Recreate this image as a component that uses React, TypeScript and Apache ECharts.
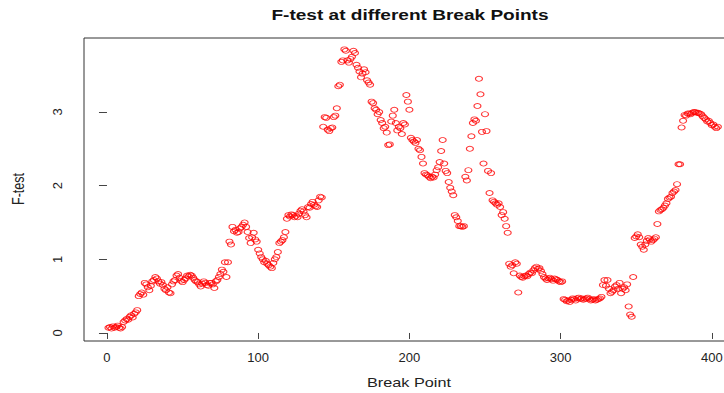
import React, { useEffect, useRef } from "react";
import * as echarts from "echarts";

const xTicks = [0, 100, 200, 300, 400];
const yTicks = [0, 1, 2, 3];
const titleText = "F-test at different Break Points";
const xTitle = "Break Point";
const yTitle = "F-test";

// F-test value at break point 1..404
const fValues = [
  0.07, 0.08, 0.06, 0.09, 0.07, 0.08, 0.10, 0.07, 0.06, 0.08,
  0.15, 0.17, 0.19, 0.18, 0.22, 0.24, 0.21, 0.26, 0.28, 0.31,
  0.50, 0.53, 0.55, 0.52, 0.68, 0.66, 0.62, 0.58, 0.64, 0.70,
  0.72, 0.76, 0.74, 0.70, 0.67, 0.69, 0.65, 0.60, 0.58, 0.62,
  0.55, 0.54, 0.66, 0.70, 0.72, 0.78, 0.80, 0.75, 0.71, 0.69,
  0.72, 0.74, 0.78, 0.77, 0.79, 0.78, 0.75, 0.72, 0.70, 0.69,
  0.66, 0.63, 0.67, 0.70, 0.68, 0.65, 0.64, 0.68, 0.68, 0.66,
  0.61, 0.70, 0.72, 0.76, 0.80, 0.86, 0.83, 0.96, 0.76, 0.96,
  1.24, 1.20, 1.44, 1.38, 1.40, 1.36, 1.37, 1.42, 1.44, 1.47,
  1.50, 1.44, 1.37, 1.29, 1.22, 1.30, 1.36, 1.27, 1.24, 1.13,
  1.08, 1.03, 1.00, 0.96, 0.98, 0.94, 0.92, 0.90, 0.88, 0.95,
  1.00, 1.03, 1.10, 1.22, 1.24, 1.26, 1.30, 1.37, 1.55, 1.60,
  1.58, 1.61, 1.60, 1.57, 1.59, 1.57, 1.62, 1.66, 1.68, 1.65,
  1.60, 1.57, 1.71, 1.70, 1.75, 1.78, 1.74, 1.72, 1.71, 1.80,
  1.85, 1.84, 2.80, 2.93, 2.92, 2.76, 2.74, 2.78, 2.79, 2.93,
  2.95, 3.05, 3.35, 3.37, 3.68, 3.70, 3.85, 3.83, 3.70, 3.67,
  3.72, 3.75, 3.83, 3.80, 3.64, 3.60, 3.55, 3.47, 3.52, 3.58,
  3.54, 3.43, 3.40, 3.37, 3.14, 3.12, 3.05, 3.03, 2.97, 3.00,
  2.89, 2.85, 2.78, 2.80, 2.72, 2.55, 2.56, 2.87, 2.95, 3.03,
  2.85, 2.75, 2.80, 2.78, 2.70, 2.85, 2.83, 3.23, 3.14, 3.03,
  2.65, 2.62, 2.60, 2.58, 2.62, 2.50, 2.48, 2.39, 2.30, 2.17,
  2.15, 2.14, 2.12, 2.10, 2.12, 2.11, 2.15, 2.21, 2.25, 2.32,
  2.47, 2.62, 2.30, 2.20, 2.17, 2.05, 1.97, 1.92, 1.87, 1.60,
  1.57, 1.52, 1.45, 1.45, 1.44, 1.45, 2.12, 2.07, 2.21, 2.50,
  2.67, 2.85, 2.90, 2.88, 3.08, 3.45, 3.24, 2.73, 2.30, 2.97,
  2.74, 2.20, 1.90, 2.17, 1.80, 1.78, 1.76, 1.74, 1.76, 1.71,
  1.60, 1.64, 1.55, 1.45, 1.36, 0.94, 0.90, 0.92, 0.81, 0.96,
  0.94, 0.55, 0.78, 0.76, 0.75, 0.77, 0.78, 0.77, 0.80, 0.82,
  0.81, 0.85, 0.88, 0.90, 0.87, 0.88, 0.84, 0.80, 0.76, 0.74,
  0.72, 0.74, 0.75, 0.73, 0.71, 0.74, 0.73, 0.72, 0.70, 0.69,
  0.70, 0.46, 0.45, 0.43, 0.44, 0.42, 0.45, 0.47, 0.46, 0.44,
  0.47, 0.48, 0.46, 0.47, 0.45, 0.46, 0.47, 0.48, 0.46, 0.44,
  0.45, 0.46, 0.44, 0.45, 0.46, 0.47, 0.49, 0.65, 0.72, 0.64,
  0.72, 0.60, 0.54, 0.56, 0.58, 0.63, 0.65, 0.60, 0.68, 0.54,
  0.60, 0.62, 0.58, 0.66, 0.36, 0.25, 0.22, 0.76, 1.29, 1.31,
  1.34, 1.30, 1.20, 1.17, 1.13, 1.20, 1.25, 1.29, 1.27, 1.24,
  1.26, 1.28, 1.30, 1.48, 1.65, 1.67, 1.68, 1.70, 1.73, 1.76,
  1.82, 1.84, 1.85, 1.90, 1.92, 1.94, 2.02, 2.29, 2.29, 2.79,
  2.88, 2.96, 2.95, 2.98, 2.98, 2.97, 2.99, 3.00, 3.00, 2.99,
  2.99, 2.98, 2.97, 2.94, 2.92, 2.90, 2.87, 2.88, 2.85, 2.82,
  2.83, 2.80, 2.78, 2.80,
];

const breakPoints = fValues.map((_, i) => i + 1);

const FONT = "'Liberation Sans', Arial, Helvetica, sans-serif";

export default function App() {
  const ref = useRef<HTMLDivElement>(null);
  useEffect(() => {
    const chart = echarts.init(ref.current as HTMLDivElement, null, { renderer: "svg" });
    chart.setOption({
      animation: false,
      backgroundColor: "#ffffff",
      grid: {
        show: true,
        left: 84,
        top: 38,
        width: 657,
        height: 303,
        borderColor: "#333",
        borderWidth: 1,
        backgroundColor: "transparent",
      },
      xAxis: {
        type: "value",
        min: -15.2,
        max: 419.3,
        axisLine: { show: false },
        splitLine: { show: false },
        axisTick: { show: true, length: 6, inside: false, lineStyle: { color: "#444" }, customValues: xTicks },
        axisLabel: { customValues: xTicks, margin: 10, fontSize: 13, color: "#222", fontFamily: FONT },
      },
      yAxis: {
        type: "value",
        min: -0.109,
        max: 4.004,
        axisLine: { show: false },
        splitLine: { show: false },
        axisTick: { show: true, length: 8, inside: false, lineStyle: { color: "#444" }, customValues: yTicks },
        axisLabel: { customValues: yTicks, margin: 20, rotate: 90, fontSize: 13, color: "#222", fontFamily: FONT },
      },
      graphic: [
        {
          type: "text",
          x: 410,
          y: 15,
          scaleX: 1.36,
          style: {
            text: titleText,
            font: `bold 14px ${FONT}`,
            fill: "#111",
            textAlign: "center",
            textVerticalAlign: "middle",
          },
        },
        {
          type: "text",
          x: 409,
          y: 383,
          scaleX: 1.3,
          style: {
            text: xTitle,
            font: `12.5px ${FONT}`,
            fill: "#222",
            textAlign: "center",
            textVerticalAlign: "middle",
          },
        },
        {
          type: "text",
          x: 18,
          y: 189,
          rotation: Math.PI / 2,
          scaleY: 1.3,
          style: {
            text: yTitle,
            font: `12.5px ${FONT}`,
            fill: "#222",
            textAlign: "center",
            textVerticalAlign: "middle",
          },
        },
      ],
      series: [
        {
          type: "scatter",
          data: breakPoints.map((b, i) => [b, fValues[i]]),
          symbol: "circle",
          symbolSize: [7, 5],
          itemStyle: { color: "transparent", borderColor: "#ff0000", borderWidth: 1 },
          emphasis: { disabled: true },
        },
      ],
    });
    return () => chart.dispose();
  }, []);
  return (
    <div
      style={{ position: "absolute", left: 0, top: 0, width: 724, height: 393, overflow: "hidden", background: "#fff" }}
    >
      <div ref={ref} style={{ width: 760, height: 393 }} />
    </div>
  );
}
